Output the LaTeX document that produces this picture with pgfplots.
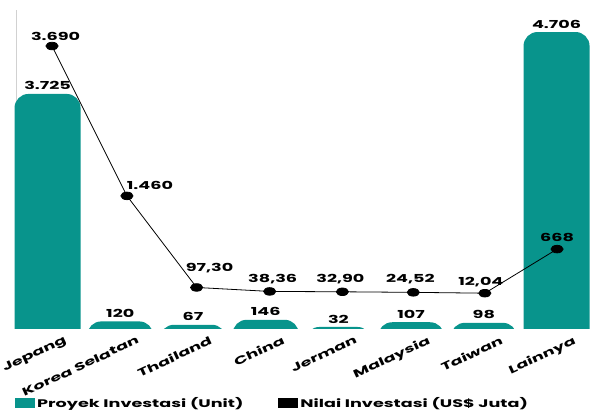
\documentclass[border=0pt]{standalone}
\usepackage{pgfplots}
\pgfplotsset{compat=1.18}
\usepackage{pgfplotstable}
\usepackage{fontspec}
\setmainfont{Poppins}[FakeStretch=1.6]
\definecolor{tealbar}{RGB}{8,148,140}

\pgfplotstableread{
x v lab
0 3725 3.725
1 120 120
2 67 67
3 146 146
4 32 32
5 107 107
6 98 98
7 4706 4.706
}\bardata

\pgfplotstableread{
x v lab lx ly
0.062 3690 3.690 3.6 10
1.092 1460 1.460 23 10
2.05 97.30 97,30 13 19
3.055 38.36 38,36 3 12
4.055 32.90 32,90 -2 12.5
5.03 24.52 24,52 -3 13
6.014 12.04 12,04 -4 11
7.007 668 668 0 12
}\linedata

\newcommand{\lblfont}{\fontsize{11}{13}\selectfont\bfseries}

\begin{document}
\begin{tikzpicture}
\useasboundingbox (0,0) rectangle (590pt,410pt);
\draw[black!18, line width=0.6pt] (16pt,81pt) -- (16pt,400pt);
\begin{axis}[
  at={(13.5pt,81pt)}, anchor=south west,
  scale only axis, width=576.5pt, height=319pt,
  xmin=-0.468, xmax=7.46,
  ymin=0, ymax=5055,
  axis line style={draw=none},
  tick style={draw=none},
  ytick=\empty,
  xtick={0,...,7},
  xticklabels={Jepang, Korea Selatan, Thailand, China, Jerman, Malaysia, Taiwan, Lainnya},
  xticklabel style={rotate=25, anchor=north east, inner sep=0pt, xshift=12pt, yshift=-12.5pt, font=\lblfont},
]
% bars: rounded top corners, bottom corners hidden below the axis (clipped)
\addplot[fill=tealbar, draw=none, rounded corners=14pt] coordinates {(-0.454,-2000) (-0.454,3725) (0.454,3725) (0.454,-2000)} -- cycle;
\addplot[fill=tealbar, draw=none, rounded corners=14pt] coordinates {(0.546,-2000) (0.546,120) (1.454,120) (1.454,-2000)} -- cycle;
\addplot[fill=tealbar, draw=none, rounded corners=14pt] coordinates {(1.546,-2000) (1.546,67) (2.454,67) (2.454,-2000)} -- cycle;
\addplot[fill=tealbar, draw=none, rounded corners=14pt] coordinates {(2.546,-2000) (2.546,146) (3.454,146) (3.454,-2000)} -- cycle;
\addplot[fill=tealbar, draw=none, rounded corners=14pt] coordinates {(3.546,-2000) (3.546,32) (4.454,32) (4.454,-2000)} -- cycle;
\addplot[fill=tealbar, draw=none, rounded corners=14pt] coordinates {(4.546,-2000) (4.546,107) (5.454,107) (5.454,-2000)} -- cycle;
\addplot[fill=tealbar, draw=none, rounded corners=14pt] coordinates {(5.546,-2000) (5.546,98) (6.454,98) (6.454,-2000)} -- cycle;
\addplot[fill=tealbar, draw=none, rounded corners=14pt] coordinates {(6.546,-2000) (6.546,4706) (7.454,4706) (7.454,-2000)} -- cycle;
% bar value labels
\addplot[draw=none, mark=none, point meta=explicit symbolic, nodes near coords,
  every node near coord/.append style={anchor=center, inner sep=0pt, yshift=8pt, font=\lblfont, black}]
  table[x=x, y=v, meta=lab] {\bardata};
\end{axis}
\begin{axis}[
  at={(13.5pt,81pt)}, anchor=south west,
  scale only axis, width=576.5pt, height=319pt,
  xmin=-0.468, xmax=7.46,
  ymin=-520.8, ymax=4226,
  hide axis,
  clip=false,
  legend columns=2,
  legend image code/.code={\fill (0pt,-5pt) rectangle (20pt,5pt);},
  legend style={at={(0.0026,-0.232)}, anchor=west, draw=none, fill=none, inner sep=0pt,
    font=\lblfont, /tikz/every even column/.append style={column sep=33pt},
    nodes={inner sep=2pt}},
]
\addlegendimage{fill=tealbar, draw=none}
\addlegendentry{Proyek Investasi (Unit)}
\addlegendimage{fill=black, draw=none}
\addlegendentry{Nilai Investasi (US\$ Juta)}
\addplot[black, line width=0.8pt, mark=*, mark size=3.8pt, mark options={xscale=1.6},
  forget plot,
  point meta=explicit symbolic, nodes near coords,
  visualization depends on={\thisrow{lx} \as \lblx},
  visualization depends on={\thisrow{ly} \as \lbly},
  every node near coord/.append style={anchor=center, inner sep=0pt, xshift=\lblx pt, yshift=\lbly pt, font=\lblfont}]
  table[x=x, y=v, meta=lab] {\linedata};
\end{axis}
\end{tikzpicture}
\end{document}
